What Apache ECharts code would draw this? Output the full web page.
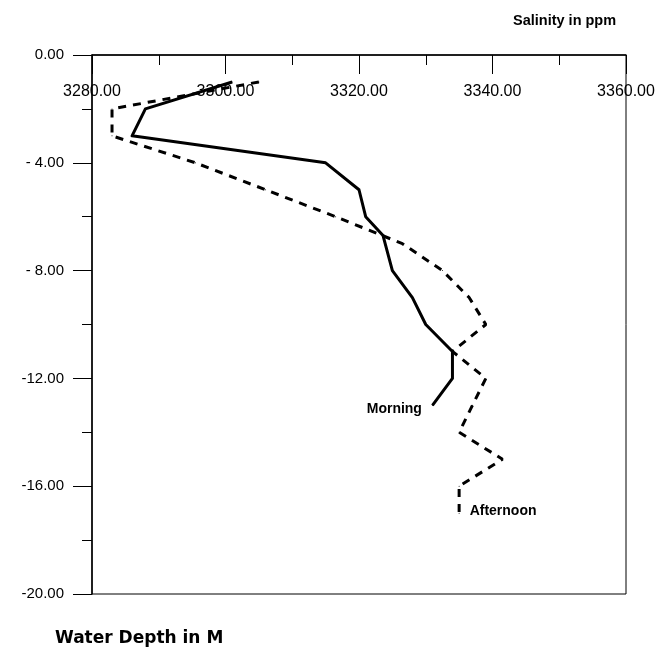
<!DOCTYPE html>
<html>
<head>
<meta charset="utf-8">
<script src="https://cdn.jsdelivr.net/npm/echarts@6/dist/echarts.min.js"></script>
<style>
  html, body { margin: 0; padding: 0; background: #fff; }
  #chart { width: 659px; height: 652px; }
</style>
</head>
<body>
<div id="chart"></div>
<script>
// Salinity profiles (ppm) against water depth (m, negative downward)
const morningDepth    = [-1, -2, -3, -4, -5, -6, -6.7, -8, -9, -10, -11, -12, -13];
const morningSalinity = [3301, 3288, 3286, 3315, 3320, 3321, 3323.6, 3325, 3328, 3330, 3334, 3334, 3331];

const afternoonDepth    = [-1, -2, -3, -4, -5, -6, -7, -8, -9, -10, -11, -12, -13, -14, -15, -16, -17];
const afternoonSalinity = [3305, 3283, 3283, 3295.5, 3306, 3316.5, 3326.5, 3332.5, 3336.5, 3339, 3334, 3339, 3337, 3335, 3341.5, 3335, 3335];

const seriesNames = ['Morning', 'Afternoon'];

const salinityRange = [3280, 3360];
const depthRange = [-20, 0];

const fontMain = '"Liberation Sans", Arial, sans-serif';

function pairs(xs, ys) {
  return xs.map((x, i) => [x, ys[i]]);
}

// Put the series name beside its last point
function withEndLabel(points, name, pos, offset) {
  return points.map((p, i) => {
    if (i !== points.length - 1) return p;
    return {
      value: p,
      label: {
        show: true,
        formatter: name,
        position: pos,
        distance: 10,
        offset: offset,
        color: '#000',
        fontFamily: fontMain,
        fontWeight: 'bold',
        fontSize: 14
      }
    };
  });
}

const chart = echarts.init(document.getElementById('chart'), null, { renderer: 'canvas' });

chart.setOption({
  animation: false,
  backgroundColor: '#fff',
  title: [
    {
      text: 'Salinity in ppm',
      left: 508, top: 8,
      textStyle: { fontFamily: fontMain, fontWeight: 'bold', fontSize: 14.5, color: '#000' }
    },
    {
      text: 'Water Depth in M',
      left: 50, top: 625,
      textStyle: { fontFamily: '"DejaVu Sans", sans-serif', fontWeight: 'bold', fontSize: 17, color: '#000' }
    }
  ],
  grid: {
    left: 92, right: 33, top: 55, bottom: 58,
    show: true, borderColor: '#000', borderWidth: 1, backgroundColor: 'transparent'
  },
  xAxis: {
    type: 'value',
    position: 'top',
    min: salinityRange[0], max: salinityRange[1], interval: 20,
    axisLine: { show: true, lineStyle: { color: '#000', width: 1.5 } },
    axisTick: { show: true, inside: true, length: 19, lineStyle: { color: '#000', width: 1 } },
    minorTick: { show: true, splitNumber: 2, length: 10, lineStyle: { color: '#000', width: 1 } },
    splitLine: { show: false },
    axisLabel: {
      inside: true, margin: 29,
      formatter: v => v.toFixed(2),
      fontFamily: fontMain, fontSize: 16, color: '#000'
    }
  },
  yAxis: {
    type: 'value',
    min: depthRange[0], max: depthRange[1], interval: 4,
    axisLine: { show: true, lineStyle: { color: '#000', width: 1.5 } },
    axisTick: { show: true, inside: false, length: 19, lineStyle: { color: '#000', width: 1 } },
    minorTick: { show: true, splitNumber: 2, length: 10, lineStyle: { color: '#000', width: 1 } },
    splitLine: { show: false },
    axisLabel: {
      margin: 28,
      formatter: v => (v < 0 && v > -10 ? '- ' + Math.abs(v).toFixed(2) : v.toFixed(2)),
      fontFamily: fontMain, fontSize: 15, color: '#000'
    }
  },
  series: [
    {
      name: seriesNames[0],
      type: 'line',
      data: withEndLabel(pairs(morningSalinity, morningDepth), seriesNames[0], 'left', [0, 4]),
      showSymbol: true, symbol: 'circle', symbolSize: 1,
      itemStyle: { color: '#000' },
      lineStyle: { color: '#000', width: 3, type: 'solid', join: 'round' },
      silent: true, emphasis: { disabled: true }
    },
    {
      name: seriesNames[1],
      type: 'line',
      data: withEndLabel(pairs(afternoonSalinity, afternoonDepth), seriesNames[1], 'right', [0, -2]),
      showSymbol: true, symbol: 'circle', symbolSize: 1,
      itemStyle: { color: '#000' },
      lineStyle: { color: '#000', width: 3, type: [8, 7] },
      silent: true, emphasis: { disabled: true }
    }
  ]
});
</script>
</body>
</html>
